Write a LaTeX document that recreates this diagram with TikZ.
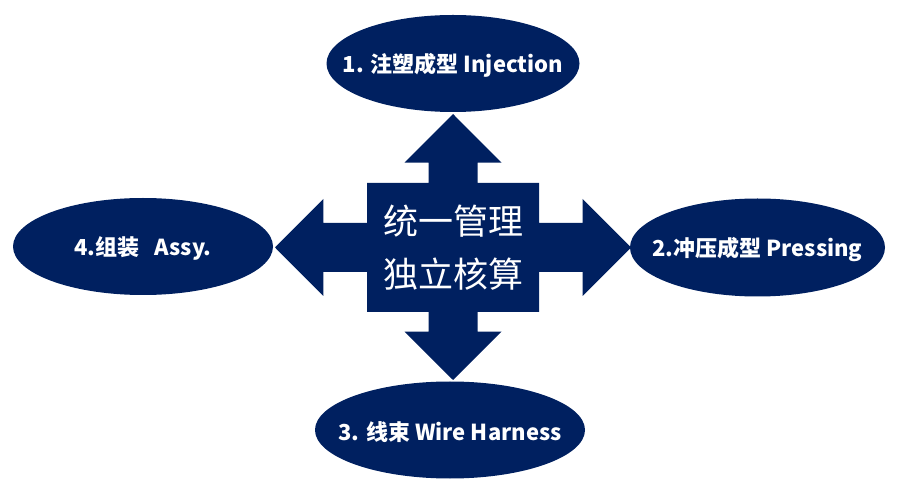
\documentclass[tikz,border=0pt]{standalone}
\usepackage{fontspec}
\setmainfont{Noto Sans CJK SC}
\usepackage{tikz}
\usetikzlibrary{shapes.geometric}
\definecolor{navy}{HTML}{002060}
\tikzset{unit/.style={ellipse, fill=navy, inner sep=0pt},
  unitname/.style={text=white, font=\bfseries\fontsize{22}{26}\selectfont, inner sep=0pt, yshift=-2pt}}

\begin{document}
\begin{tikzpicture}[x=1pt, y=-1pt]
\useasboundingbox (0,0) rectangle (900,494);

% the cross of four arrows
\fill [navy] (453,114) -- (501.5,162.7) -- (477.5,162.7) -- (477.5,183) -- (539,183) -- (539,223) -- (582.7,223) -- (582.7,199) -- (631,247.5) -- (582.7,296) -- (582.7,272) -- (539,272) -- (539,312) -- (477.5,312) -- (477.5,331.7) -- (501.5,331.7) -- (453,380) -- (404.5,331.7) -- (428.5,331.7) -- (428.5,312) -- (367,312) -- (367,272) -- (323.3,272) -- (323.3,296) -- (275,247.5) -- (323.3,199) -- (323.3,223) -- (367,223) -- (367,183) -- (428.5,183) -- (428.5,162.7) -- (404.5,162.7) -- cycle;
\node [text=white, align=center, font=\fontsize{35}{53}\selectfont] (core) at (453,248) {统一管理\\独立核算};

\node [unit, minimum width=253pt, minimum height=97pt] (inj) at (453,63.5) {};
\node [unitname] (injt) at (inj) {1. 注塑成型 Injection};

\node [unit, minimum width=255pt, minimum height=98pt] (press) at (757.5,247.5) {};
\node [unitname] (presst) at (press) {2.冲压成型 Pressing};

\node [unit, minimum width=270pt, minimum height=97pt] (wire) at (450,430) {};
\node [unitname] (wiret) at (wire) {3. 线束 Wire Harness};

\node [unit, minimum width=260pt, minimum height=97pt] (assy) at (143,246.5) {};
\node [unitname] (assyt) at (assy) {4.组装\ \ \ Assy.};
\end{tikzpicture}
\end{document}
